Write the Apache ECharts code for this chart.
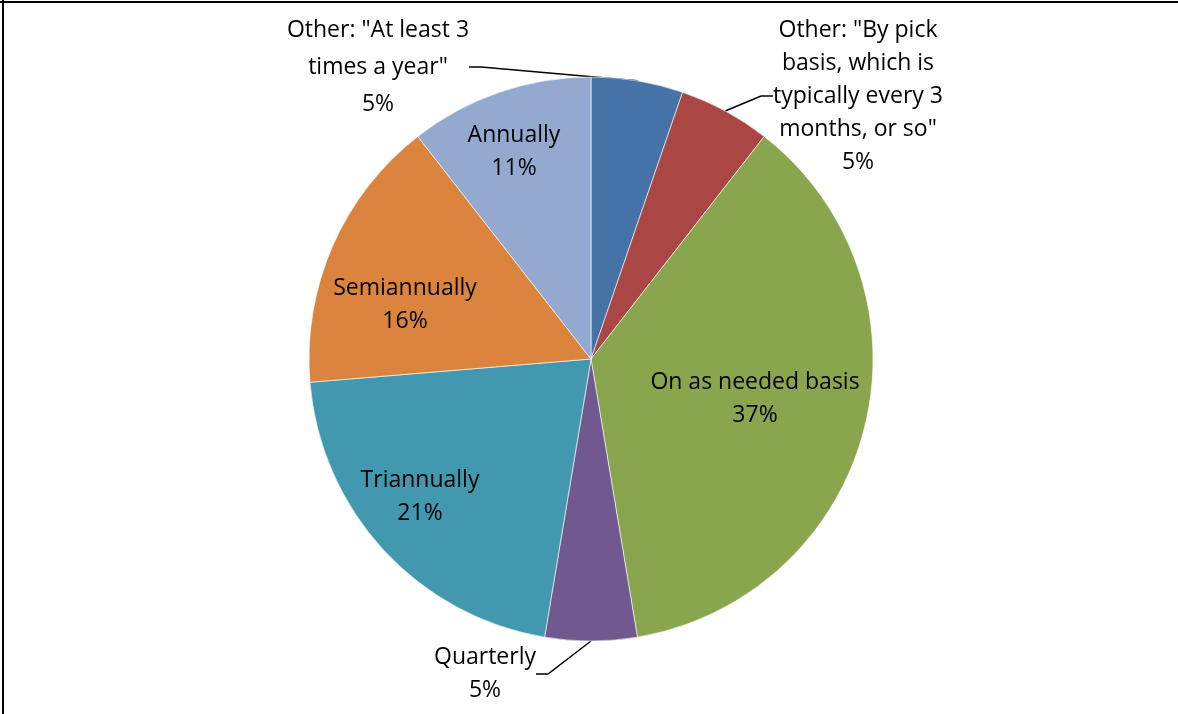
<!DOCTYPE html>
<html>
<head>
<meta charset="utf-8">
<script src="https://cdn.jsdelivr.net/npm/echarts@6/dist/echarts.min.js"></script>
<style>
  html, body { margin: 0; padding: 0; background: #fff; }
  #chart { width: 1178px; height: 714px; }
</style>
</head>
<body>
<div id="chart"></div>
<script>
// answers, counted clockwise from 12 o'clock
const categories = [
  'Other: "At least 3\ntimes a year"',
  'Other: "By pick\nbasis, which is\ntypically every 3\nmonths, or so"',
  'On as needed basis',
  'Quarterly',
  'Triannually',
  'Semiannually',
  'Annually'
]
const counts = [1, 1, 7, 1, 4, 3, 2]
const sliceColors = ['#4572a7', '#aa4643', '#89a54e', '#71588f', '#4198af', '#db843d', '#93a9cf']
const outsideLabel = [true, true, false, true, false, false, false]

// where Excel left each label (centre of the text block) and its line spacing
const labelCenters = [
  [378, 67], [858, 96], [755, 399], [485, 674], [420, 497], [405, 305], [514, 152]
]
const labelLineHeights = [37, 33, 33, 33, 33, 33, 33]

const chart = echarts.init(document.getElementById('chart'))

const option = {
  backgroundColor: '#fff',
  animation: false,
  graphic: [
    { type: 'line', shape: { x1: 0, y1: 2, x2: 1178, y2: 2 }, style: { stroke: '#000', lineWidth: 2 } },
    { type: 'line', shape: { x1: 3, y1: 0, x2: 3, y2: 714 }, style: { stroke: '#000', lineWidth: 2 } }
  ],
  series: [{
    type: 'pie',
    center: [591, 359],
    radius: 282,
    startAngle: 90,
    clockwise: true,
    avoidLabelOverlap: false,
    itemStyle: {
      borderColor: 'rgba(255,255,255,0.6)',
      borderWidth: 1
    },
    label: {
      color: '#000',
      fontFamily: 'Open Sans',
      fontSize: 23,
      align: 'center',
      formatter: (p) => `${p.name}\n${Math.round(p.percent)}%`
    },
    labelLine: {
      lineStyle: { color: '#000', width: 1.5 },
      length2: 12
    },
    labelLayout: (params) => {
      const c = labelCenters[params.dataIndex]
      return { x: c[0], y: c[1], align: 'center', verticalAlign: 'middle' }
    },
    data: categories.map((name, i) => ({
      name,
      value: counts[i],
      itemStyle: { color: sliceColors[i] },
      label: {
        position: outsideLabel[i] ? 'outside' : 'inside',
        lineHeight: labelLineHeights[i]
      },
      labelLine: { show: outsideLabel[i] }
    }))
  }]
}

chart.setOption(option)
</script>
</body>
</html>
